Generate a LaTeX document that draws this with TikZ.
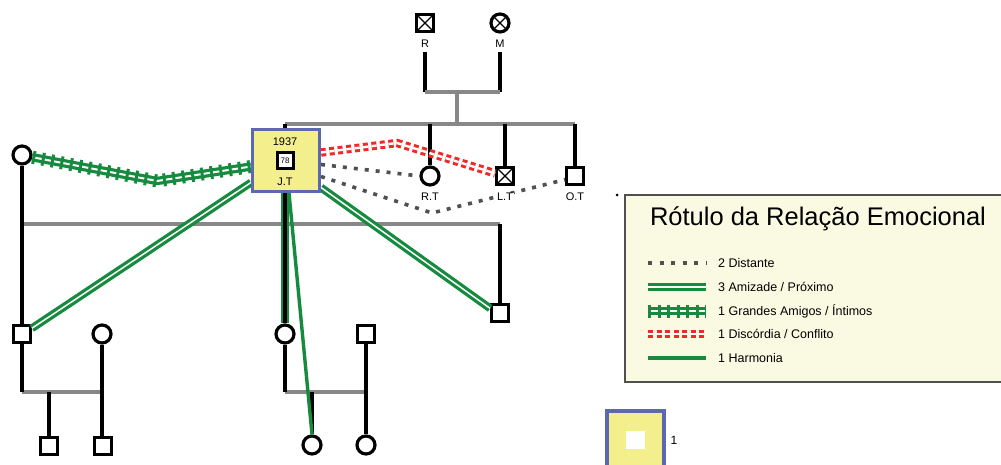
\documentclass[tikz,border=0pt]{standalone}
\usepackage{fontspec}
\setmainfont{Liberation Sans}
\usetikzlibrary{calc}
\definecolor{grn}{RGB}{22,138,62}
\definecolor{rd}{RGB}{240,40,40}
\definecolor{dk}{RGB}{80,80,80}
\definecolor{gl}{RGB}{136,136,136}
\definecolor{yel}{RGB}{242,239,140}
\definecolor{blu}{RGB}{92,104,178}
\definecolor{lgd}{RGB}{250,250,226}
\begin{document}
\begin{tikzpicture}[x=1pt,y=-1pt,
 male/.style={draw, line width=3.2pt, fill=white, minimum size=16.5pt, inner sep=0pt, rectangle},
 female/.style={draw, line width=3.2pt, fill=white, minimum size=18pt, inner sep=0pt, circle},
 dead/.style={path picture={\draw[line width=1.3pt] (path picture bounding box.north west) -- (path picture bounding box.south east) (path picture bounding box.north east) -- (path picture bounding box.south west);}},
 lbl/.style={font=\fontsize{11}{11}\selectfont, inner sep=0pt},
 slbl/.style={font=\fontsize{11}{11}\selectfont, inner sep=0.6pt, fill=white},
 lgtext/.style={font=\fontsize{12.5}{12.5}\selectfont, inner sep=0pt, anchor=west},
 kin/.style={line width=3.2pt, black},
 fam/.style={line width=3.2pt, gl},
 distant/.style={line width=3.6pt, dk, dash pattern=on 4pt off 7pt},
 friend/.style={draw=grn, line width=3.2pt, double=white, double distance=1.5pt},
 bestticks/.style={draw=grn, line width=13pt, dash pattern=on 3pt off 6.5pt},
 bestline/.style={draw=grn, line width=3.2pt, double=white, double distance=2pt},
 conflict/.style={draw=rd, line width=3pt, double=white, double distance=2.4pt, dash pattern=on 5pt off 3.5pt},
 harmony/.style={draw=grn, line width=3.4pt}
]
\clip (0,0) rectangle (1001,465);
\fill[white] (0,0) rectangle (1001,465);

% ---------- legend ----------
\node[draw=dk, line width=1.6pt, fill=lgd, minimum width=400pt, minimum height=187pt, anchor=north west, inner sep=0pt] (LG) at (624,194) {};
\node[font=\fontsize{25.5}{25.5}\selectfont, inner sep=0pt] (LGt) at (818,219) {Rótulo da Relação Emocional};
\coordinate (la1) at (648,263); \coordinate (lb1) at (706,263);
\coordinate (la2) at (648,287); \coordinate (lb2) at (706,287);
\coordinate (la3) at (648,311); \coordinate (lb3) at (706,311);
\coordinate (la4) at (648,334); \coordinate (lb4) at (706,334);
\coordinate (la5) at (648,358); \coordinate (lb5) at (706,358);
\draw[distant, dash pattern=on 4pt off 7.5pt] (la1) -- (lb1);
\draw[friend] (la2) -- (lb2);
\draw[bestline] (la3) -- (lb3);
\draw[bestticks] (la3) -- (lb3);
\draw[conflict] (la4) -- (lb4);
\draw[harmony] (la5) -- (lb5);
\node[lgtext] (lt1) at (718,263) {2 Distante};
\node[lgtext] (lt2) at (718,287) {3 Amizade / Próximo};
\node[lgtext] (lt3) at (718,311) {1 Grandes Amigos / Íntimos};
\node[lgtext] (lt4) at (718,334) {1 Discórdia / Conflito};
\node[lgtext] (lt5) at (718,358) {1 Harmonia};
\fill[black] (617,195) circle (1.5pt);

\draw[draw=blu, line width=3.2pt, fill=yel] (607,411) rectangle (664,480);
\fill[white] (626,431) rectangle (645,449);
\node[font=\fontsize{12}{12}\selectfont, inner sep=0pt] (one) at (674,440) {1};

% ---------- people ----------
\node[male,dead] (R) at (425,23) {};
\node[female,dead] (M) at (500,23) {};
\node[slbl] (Rl) at (425,44) {R};
\node[slbl] (Ml) at (500,44) {M};

\node[draw=blu, line width=3pt, fill=yel, minimum width=67pt, minimum height=62pt, inner sep=0pt] (JT) at (286,160.5) {};

\node[female] (RT) at (430,176) {};
\node[male,dead] (LT) at (505,176) {};
\node[male] (OT) at (575,176) {};

\node[female] (W) at (22,155) {};
\node[male] (S1) at (22,334) {};
\node[female] (C1) at (285,334) {};
\node[male] (S2) at (500,313) {};
\node[female] (P1) at (102,334) {};
\node[male] (S3) at (366,334) {};
\node[male] (K1) at (49,446) {};
\node[male] (K2) at (103,446) {};
\node[female] (K3) at (312,445) {};
\node[female] (K4) at (366,445) {};

\coordinate (pm) at (457,92);
\coordinate (sib) at (457,124);
\coordinate (g1) at (22,224);
\coordinate (g1e) at (500,224);
\coordinate (g2) at (22,392);
\coordinate (g3) at (285,392);

% ---------- family lines ----------
\draw[kin] ($(Rl.south)+(0,3)$) -- (Rl.south |- pm);
\draw[kin] ($(Ml.south)+(0,3)$) -- (Ml.south |- pm);
\draw[fam] (Rl.south |- pm) -- (Ml.south |- pm);
\draw[fam] (pm) -- (sib);
\draw[fam] (C1.north |- sib) -- (OT.north |- sib);
\draw[kin] (C1.north |- sib) -- (C1.north |- JT.north);
\draw[kin] (RT.north |- sib) -- (RT.north);
\draw[kin] (LT.north |- sib) -- (LT.north);
\draw[kin] (OT.north |- sib) -- (OT.north);

\draw[fam] (g1) -- (g1e);
\draw[kin] (W.south) -- (S1.north);
\draw[kin] (g1e) -- (S2.north);
\draw[fam] (g2) -- (g2 -| P1);
\draw[kin] (S1.south) -- (g2);
\draw[kin] (P1.south) -- (P1.south |- K2.north);
\draw[kin] (K1.north |- g2) -- (K1.north);
\draw[fam] (g3) -- (g3 -| S3);
\draw[kin] (C1.south) -- (g3);
\draw[kin] (S3.south) -- (K4.north);
\draw[kin] (K3.north |- g3) -- (K3.north);

% ---------- emotional relations ----------
\coordinate (hb) at (157,181);
\draw[bestline] (W.-12) -- (hb) -- ($(JT.west)+(0,6)$);
\draw[bestticks] (W.-12) -- (hb) -- ($(JT.west)+(0,6)$);

\coordinate (rb) at (397,143);
\draw[conflict] ($(JT.east)+(0,-8)$) -- (rb) -- (LT.165);

\draw[distant] ($(JT.east)+(0,4)$) -- (RT.west);
\coordinate (db) at (432,213);
\draw[distant] ($(JT.east)+(0,16)$) -- (db) -- (OT.200);

\draw[friend] ($(JT.west)+(0,22)$) -- (S1.30);
\draw[friend] ($(JT.east)+(0,27)$) -- (S2.155);
\draw[friend] (C1.north |- JT.south) -- (C1.north);
\draw[harmony] ($(JT.south)+(3,0)$) -- (K3.north);
\draw[kin] (C1.north |- JT.south) -- (C1.north);

% ---------- labels on top ----------
\node[slbl] (RTl) at (430,197) {R.T};
\node[slbl] (LTl) at (505,197) {L.T};
\node[slbl] (OTl) at (575,197) {O.T};

% ---------- J.T contents (on top) ----------
\node[draw=blu, line width=3pt, fill=yel, minimum width=67pt, minimum height=62pt, inner sep=0pt] (JTb) at (JT) {};
\node[lbl] (JTy) at (285,142) {1937};
\node[draw, line width=3pt, fill=white, minimum size=16pt, inner sep=0pt, font=\fontsize{8}{8}\selectfont] (JTa) at (285,161) {78};
\node[lbl] (JTn) at (285,182) {J.T};
\end{tikzpicture}
\end{document}
